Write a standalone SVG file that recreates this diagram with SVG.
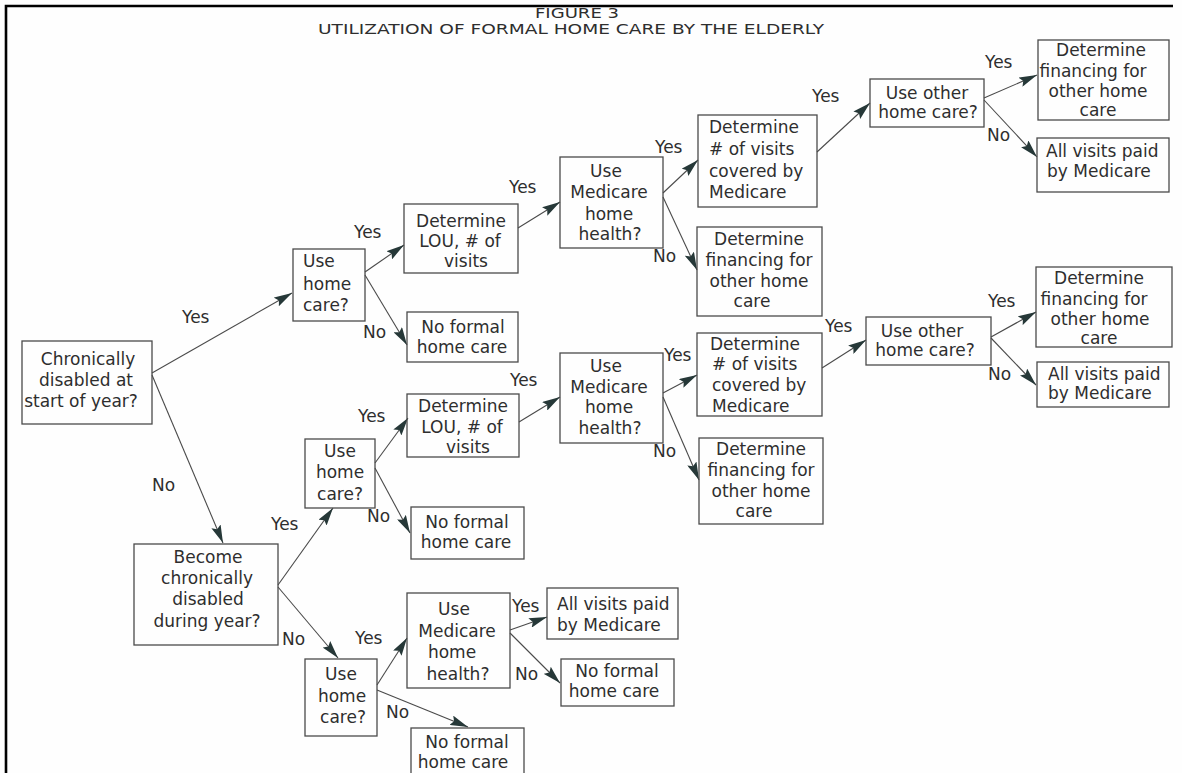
<svg xmlns="http://www.w3.org/2000/svg" width="1182" height="773" viewBox="0 0 1182 773">
<style>
  .box { fill: none; stroke: #4a4a4a; stroke-width: 1.3; }
  .t { font-family: "DejaVu Sans", "Liberation Sans", sans-serif; font-size: 17px; fill: #2e2e2e; }
  .c { text-anchor: middle; }
  .s { text-anchor: start; }
  .lbl { font-family: "DejaVu Sans", "Liberation Sans", sans-serif; font-size: 17px; fill: #2e2e2e; }
  .title { font-family: "DejaVu Sans", "Liberation Sans", sans-serif; font-size: 14px; fill: #2e2e2e; }
  .edge { stroke: #4a4a4a; stroke-width: 1.1; fill: none; marker-end: url(#ah); }
</style>
<defs>
  <marker id="ah" markerUnits="userSpaceOnUse" markerWidth="19" markerHeight="10" refX="18" refY="5" orient="auto">
    <path d="M0,0 L18,5 L0,10 L3,5 z" fill="#263838"/>
  </marker>
</defs>
<rect x="0" y="0" width="1182" height="773" fill="#fefefe"/>
<path d="M6,773 L6,6 L1173,6" fill="none" stroke="#000" stroke-width="2.6"/>
<g id="title">
  <text class="title c" x="577" y="18" textLength="84" lengthAdjust="spacingAndGlyphs">FIGURE 3</text>
  <text class="title c" x="571" y="34" textLength="506" lengthAdjust="spacingAndGlyphs">UTILIZATION OF FORMAL HOME CARE BY THE ELDERLY</text>
</g>
<g id="connectors">
  <line class="edge" x1="152" y1="373" x2="292" y2="293"/>
  <line class="edge" x1="152" y1="375" x2="223" y2="543"/>
  <line class="edge" x1="278" y1="585" x2="333" y2="508"/>
  <line class="edge" x1="278" y1="587" x2="338" y2="658"/>
  <line class="edge" x1="365" y1="272" x2="404" y2="245"/>
  <line class="edge" x1="365" y1="275" x2="407" y2="345"/>
  <line class="edge" x1="375" y1="463" x2="408" y2="418"/>
  <line class="edge" x1="375" y1="468" x2="410" y2="533"/>
  <line class="edge" x1="377" y1="685" x2="407" y2="638"/>
  <line class="edge" x1="377" y1="690" x2="468" y2="727"/>
  <line class="edge" x1="518" y1="228" x2="560" y2="202"/>
  <line class="edge" x1="663" y1="193" x2="698" y2="160"/>
  <line class="edge" x1="663" y1="197" x2="697" y2="270"/>
  <line class="edge" x1="817" y1="152" x2="870" y2="103"/>
  <line class="edge" x1="984" y1="98" x2="1037" y2="75"/>
  <line class="edge" x1="984" y1="100" x2="1037" y2="157"/>
  <line class="edge" x1="519" y1="422" x2="560" y2="397"/>
  <line class="edge" x1="663" y1="393" x2="697" y2="375"/>
  <line class="edge" x1="663" y1="397" x2="699" y2="480"/>
  <line class="edge" x1="822" y1="368" x2="866" y2="340"/>
  <line class="edge" x1="991" y1="337" x2="1036" y2="312"/>
  <line class="edge" x1="991" y1="338" x2="1036" y2="385"/>
  <line class="edge" x1="510" y1="630" x2="547" y2="617"/>
  <line class="edge" x1="510" y1="633" x2="560" y2="683"/>
</g>
<g id="labels">
  <text class="lbl" x="182" y="323">Yes</text>
  <text class="lbl" x="152" y="491">No</text>
  <text class="lbl" x="354" y="238">Yes</text>
  <text class="lbl" x="363" y="338">No</text>
  <text class="lbl" x="509" y="193">Yes</text>
  <text class="lbl" x="655" y="153">Yes</text>
  <text class="lbl" x="653" y="262">No</text>
  <text class="lbl" x="812" y="102">Yes</text>
  <text class="lbl" x="985" y="68">Yes</text>
  <text class="lbl" x="987" y="141">No</text>
  <text class="lbl" x="271" y="530">Yes</text>
  <text class="lbl" x="282" y="645">No</text>
  <text class="lbl" x="358" y="422">Yes</text>
  <text class="lbl" x="367" y="522">No</text>
  <text class="lbl" x="510" y="386">Yes</text>
  <text class="lbl" x="664" y="361">Yes</text>
  <text class="lbl" x="653" y="457">No</text>
  <text class="lbl" x="825" y="332">Yes</text>
  <text class="lbl" x="988" y="307">Yes</text>
  <text class="lbl" x="988" y="380">No</text>
  <text class="lbl" x="355" y="644">Yes</text>
  <text class="lbl" x="386" y="718">No</text>
  <text class="lbl" x="512" y="612">Yes</text>
  <text class="lbl" x="515" y="680">No</text>
</g>
<g id="n_chron">
  <rect class="box" x="22" y="341" width="130" height="83"/>
  <text class="t c" x="88" y="365">Chronically</text>
  <text class="t c" x="86" y="386">disabled at</text>
  <text class="t c" x="81" y="407">start of year?</text>
</g>
<g id="n_become">
  <rect class="box" x="134" y="544" width="144" height="101"/>
  <text class="t c" x="208" y="563">Become</text>
  <text class="t c" x="207" y="584">chronically</text>
  <text class="t c" x="208" y="605">disabled</text>
  <text class="t c" x="207" y="627">during year?</text>
</g>
<g id="n_use1">
  <rect class="box" x="293" y="249" width="72" height="72"/>
  <text class="t s" x="303" y="267">Use</text>
  <text class="t s" x="303" y="290">home</text>
  <text class="t s" x="303" y="311">care?</text>
</g>
<g id="n_use2">
  <rect class="box" x="305" y="439" width="70" height="69"/>
  <text class="t c" x="340" y="457">Use</text>
  <text class="t c" x="340" y="478">home</text>
  <text class="t c" x="340" y="500">care?</text>
</g>
<g id="n_use3">
  <rect class="box" x="305" y="659" width="72" height="77"/>
  <text class="t c" x="341" y="680">Use</text>
  <text class="t c" x="342" y="702">home</text>
  <text class="t c" x="343" y="723">care?</text>
</g>
<g id="n_lou1">
  <rect class="box" x="404" y="204" width="114" height="69"/>
  <text class="t c" x="461" y="227">Determine</text>
  <text class="t c" x="460" y="247">LOU, # of</text>
  <text class="t c" x="466" y="267">visits</text>
</g>
<g id="n_nofc1">
  <rect class="box" x="407" y="312" width="111" height="50"/>
  <text class="t c" x="463" y="333">No formal</text>
  <text class="t c" x="462" y="353">home care</text>
</g>
<g id="n_lou2">
  <rect class="box" x="407" y="394" width="112" height="63"/>
  <text class="t c" x="463" y="412">Determine</text>
  <text class="t c" x="462" y="433">LOU, # of</text>
  <text class="t c" x="468" y="453">visits</text>
</g>
<g id="n_nofc2">
  <rect class="box" x="411" y="507" width="113" height="52"/>
  <text class="t c" x="467" y="528">No formal</text>
  <text class="t c" x="466" y="548">home care</text>
</g>
<g id="n_med1">
  <rect class="box" x="560" y="157" width="103" height="91"/>
  <text class="t c" x="606" y="177">Use</text>
  <text class="t c" x="609" y="198">Medicare</text>
  <text class="t c" x="609" y="220">home</text>
  <text class="t c" x="610" y="240">health?</text>
</g>
<g id="n_med2">
  <rect class="box" x="560" y="353" width="103" height="90"/>
  <text class="t c" x="606" y="372">Use</text>
  <text class="t c" x="609" y="393">Medicare</text>
  <text class="t c" x="609" y="413">home</text>
  <text class="t c" x="610" y="434">health?</text>
</g>
<g id="n_med3">
  <rect class="box" x="407" y="593" width="103" height="95"/>
  <text class="t c" x="454" y="615">Use</text>
  <text class="t c" x="457" y="637">Medicare</text>
  <text class="t c" x="452" y="658">home</text>
  <text class="t c" x="458" y="680">health?</text>
</g>
<g id="n_det1">
  <rect class="box" x="698" y="115" width="119" height="92"/>
  <text class="t s" x="709" y="133">Determine</text>
  <text class="t s" x="709" y="155"># of visits</text>
  <text class="t s" x="709" y="177">covered by</text>
  <text class="t s" x="709" y="198">Medicare</text>
</g>
<g id="n_fin1">
  <rect class="box" x="697" y="227" width="125" height="89"/>
  <text class="t c" x="759" y="245">Determine</text>
  <text class="t c" x="759" y="266">financing for</text>
  <text class="t c" x="759" y="287">other home</text>
  <text class="t c" x="752" y="307">care</text>
</g>
<g id="n_det2">
  <rect class="box" x="697" y="333" width="125" height="83"/>
  <text class="t s" x="710" y="350">Determine</text>
  <text class="t s" x="712" y="370"># of visits</text>
  <text class="t s" x="712" y="391">covered by</text>
  <text class="t s" x="712" y="412">Medicare</text>
</g>
<g id="n_fin2">
  <rect class="box" x="699" y="438" width="124" height="86"/>
  <text class="t c" x="761" y="455">Determine</text>
  <text class="t c" x="761" y="476">financing for</text>
  <text class="t c" x="761" y="497">other home</text>
  <text class="t c" x="754" y="517">care</text>
</g>
<g id="n_uo1">
  <rect class="box" x="870" y="79" width="114" height="48"/>
  <text class="t c" x="927" y="99">Use other</text>
  <text class="t c" x="928" y="118">home care?</text>
</g>
<g id="n_uo2">
  <rect class="box" x="866" y="317" width="125" height="48"/>
  <text class="t c" x="922" y="337">Use other</text>
  <text class="t c" x="925" y="356">home care?</text>
</g>
<g id="n_fin3">
  <rect class="box" x="1038" y="40" width="131" height="80"/>
  <text class="t c" x="1101" y="56">Determine</text>
  <text class="t c" x="1093" y="77">financing for</text>
  <text class="t c" x="1098" y="97">other home</text>
  <text class="t c" x="1098" y="116">care</text>
</g>
<g id="n_av1">
  <rect class="box" x="1037" y="138" width="132" height="54"/>
  <text class="t s" x="1046" y="157">All visits paid</text>
  <text class="t s" x="1047" y="177">by Medicare</text>
</g>
<g id="n_fin4">
  <rect class="box" x="1036" y="267" width="136" height="80"/>
  <text class="t c" x="1099" y="284">Determine</text>
  <text class="t c" x="1094" y="305">financing for</text>
  <text class="t c" x="1100" y="325">other home</text>
  <text class="t c" x="1099" y="344">care</text>
</g>
<g id="n_av2">
  <rect class="box" x="1037" y="362" width="132" height="45"/>
  <text class="t s" x="1048" y="380">All visits paid</text>
  <text class="t s" x="1048" y="399">by Medicare</text>
</g>
<g id="n_av3">
  <rect class="box" x="547" y="588" width="131" height="51"/>
  <text class="t s" x="557" y="610">All visits paid</text>
  <text class="t s" x="557" y="631">by Medicare</text>
</g>
<g id="n_nofc3">
  <rect class="box" x="561" y="659" width="113" height="47"/>
  <text class="t c" x="617" y="677">No formal</text>
  <text class="t c" x="614" y="697">home care</text>
</g>
<g id="n_nofc4">
  <rect class="box" x="411" y="728" width="113" height="52"/>
  <text class="t c" x="467" y="748">No formal</text>
  <text class="t c" x="463" y="768">home care</text>
</g>
</svg>
